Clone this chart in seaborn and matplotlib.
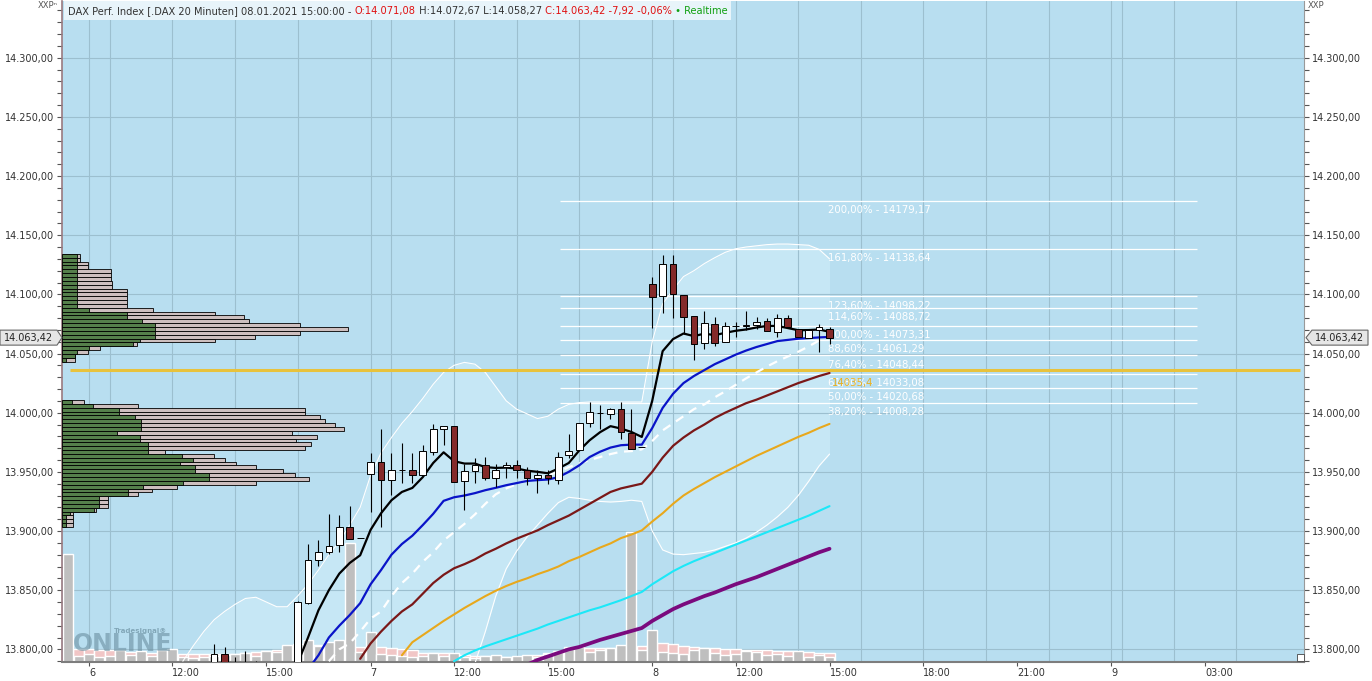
import numpy as np
import matplotlib
matplotlib.use('Agg')
import matplotlib.pyplot as plt
import matplotlib.transforms as mtransforms
from matplotlib.patches import Polygon, Rectangle
from matplotlib.ticker import FixedLocator, MultipleLocator, FuncFormatter
import seaborn as sns

# ============================================================
# DATA  (20 minute bars, bar index 0 = 06.01. 09:20)
# ============================================================
candle_start = 12
c_open = [13786, 13795.8, 13787, 13785, 13786, 13782, 13778, 13775, 13779, 13839.2,
          13875.3, 13882.3, 13887.9, 13903.4, 13894.1, 13948.5, 13957.9, 13942.9, 13951.9, 13951.9,
          13947.1, 13966.8, 13985.8, 13988.6, 13942, 13950.5, 13956.2, 13944.4, 13954.2, 13956.2,
          13951.4, 13944.4, 13947.1, 13942.9, 13964.1, 13968.2, 13990.9, 13999.8, 13999.3, 14003,
          13982.9, 13970.6, 14108.6, 14098.5, 14125.5, 14099.3, 14081.6, 14058.5, 14074.8, 14059.4,
          14073.4, 14073.4, 14073.9, 14077.3, 14068.3, 14080.1, 14070.6, 14063.5, 14069.7, 14071.08]
c_high = [13804.4, 13801.8, 13793.3, 13798.3, 13790.5, 13788, 13786, 13785, 13840.5, 13888.8,
          13892.2, 13914.2, 13913.3, 13920.9, 13894.1, 13965.5, 13986.6, 13966, 13974, 13965.5,
          13972.5, 13990.2, 13988.6, 13988.6, 13957, 13961.8, 13962.6, 13957, 13958.4, 13960.4,
          13954, 13951.4, 13951.4, 13966.8, 13981.8, 13991.6, 14008.6, 14006.3, 14004, 14009.1,
          14003.5, 13970.6, 14114.8, 14133.2, 14133.2, 14099.3, 14081.6, 14085.8, 14081, 14076.8,
          14076.8, 14085.8, 14081, 14080, 14083, 14082.5, 14070.6, 14069.7, 14075, 14072.67]
c_low = [13780, 13783, 13780, 13779, 13778, 13772, 13770, 13768, 13776, 13838.5,
         13870.4, 13880.9, 13882.3, 13893.6, 13894.1, 13916.1, 13903.4, 13930.2, 13940.6, 13940.6,
         13947.1, 13964, 13972.5, 13941.5, 13918.1, 13940.6, 13943.5, 13937.2, 13944.4, 13944.4,
         13938.7, 13931.7, 13939.5, 13940, 13962, 13968.2, 13988, 13986.6, 13995, 13978,
         13969.7, 13970.6, 14071.2, 14084.4, 14079.6, 14066.9, 14044.4, 14053.7, 14056.2, 14059.4,
         14064, 14069.7, 14071, 14068.9, 14064, 14072, 14064, 14063.5, 14051.4, 14058.27]
c_close = [13795.8, 13787, 13785, 13786, 13782, 13778, 13775, 13779, 13840, 13875.8,
           13882.3, 13887.4, 13903.4, 13893.6, 13894.1, 13957.9, 13942.9, 13951.9, 13951.9, 13947.1,
           13967.7, 13986.6, 13988.6, 13941.5, 13950.5, 13955.6, 13944.4, 13951.9, 13956.2, 13951.4,
           13944.4, 13947, 13944.4, 13962.6, 13967.7, 13991.6, 14000.7, 13999.8, 14002.7, 13983.7,
           13969.7, 13970.6, 14097.4, 14125.5, 14100.2, 14081, 14057.9, 14075.4, 14058.5, 14073.4,
           14073.4, 14073.9, 14076.8, 14068.9, 14080.1, 14072, 14064, 14069.7, 14072.5, 14063.42]

# moving averages (start index, values)
ma_black_start = 20
ma_black = [13788, 13810, 13833, 13850, 13864, 13873, 13879.5, 13901, 13915, 13926,
            13933, 13936.4, 13945.5, 13957.5, 13966.5, 13959, 13957, 13957, 13954, 13953.3,
            13953.6, 13952.8, 13951, 13950, 13948.8, 13952.8, 13957.5, 13968, 13976.7, 13983.5,
            13988.6, 13986.6, 13983.7, 13979.5, 14010, 14052, 14062.2, 14066.9, 14064.7, 14066.8,
            14065.5, 14067.5, 14069.2, 14070.3, 14072, 14073.3, 14073.3, 14071.5, 14069.7, 14069.8,
            14070.3, 14068.3]
ma_blue_start = 21
ma_blue = [13783, 13795, 13810, 13820, 13829, 13839, 13855, 13867, 13880, 13889,
           13896, 13905, 13914.5, 13925.5, 13928.5, 13930, 13932, 13934.5, 13936.5, 13938.7,
           13940.5, 13942.3, 13943, 13943.5, 13945.5, 13950, 13955.5, 13962.5, 13967, 13970.5,
           13972.5, 13973, 13973, 13987, 14004, 14016, 14025, 14031, 14036, 14041,
           14045, 14049, 14052.5, 14055.5, 14058, 14060.5, 14061.5, 14062.5, 14063, 14063.6, 14064]
ma_white_start = 23
ma_white = [13790, 13800, 13805, 13815, 13826, 13832, 13845, 13856, 13864, 13874,
            13882, 13892, 13899, 13906, 13914, 13923, 13931, 13936, 13939.5, 13943,
            13945, 13947, 13950, 13954, 13957, 13960, 13962.5, 13965, 13967, 13967.5,
            13969, 13976, 13985, 13991, 13997, 14003, 14007, 14013, 14018, 14023.5,
            14029, 14034, 14039, 14043.5, 14047.5, 14051.5, 14056, 14061]
ma_maroon_start = 26
ma_maroon = [13792, 13805, 13815, 13824, 13832, 13838, 13847, 13856, 13863, 13868.5,
             13872, 13876, 13881, 13885, 13889.5, 13893.5, 13897, 13900.5, 13905, 13909,
             13913, 13918, 13923, 13928, 13933, 13936, 13938, 13940, 13950, 13962,
             13972, 13979, 13985, 13990, 13995.5, 14000, 14004, 14008, 14011, 14014.5,
             14018, 14021.5, 14025, 14028, 14031, 14033.5]
ma_orange_start = 30
ma_orange = [13795, 13806, 13812, 13818, 13824, 13829.5, 13835, 13840, 13845, 13849.5,
             13853.5, 13857, 13860, 13863.5, 13866.5, 13870, 13874.5, 13878, 13882, 13886,
             13889.5, 13894, 13897, 13900.5, 13908, 13915, 13923, 13930, 13935.5, 13940.5,
             13945.5, 13950, 13954.5, 13959, 13963.5, 13967.5, 13971.5, 13975.5, 13979.5, 13983,
             13987, 13990.5]
ma_cyan_start = 35
ma_cyan = [13790, 13795, 13799, 13802.5, 13805.5, 13808.5, 13811.5, 13814.5, 13817.5, 13821,
           13824, 13827, 13830, 13833, 13835.5, 13838.5, 13841.5, 13845, 13848.5, 13855,
           13860.5, 13866, 13870.5, 13874.5, 13878, 13881.5, 13885, 13888.5, 13892, 13895.5,
           13899, 13902.5, 13906, 13909.5, 13913, 13917, 13921]
ma_purple_start = 42
ma_purple = [13787, 13791, 13794, 13797, 13800, 13802, 13805, 13808, 13810.5, 13813,
             13815.5, 13818, 13824, 13829, 13834, 13838, 13841.5, 13845, 13848, 13851.5,
             13855, 13858, 13861, 13864.5, 13868, 13871.5, 13875, 13878.5, 13882, 13885]

# envelope bands
band_start = 9
band_upper = [13790, 13803, 13815, 13825, 13832, 13838, 13843, 13844, 13840, 13836,
              13836, 13845, 13855, 13867, 13880, 13891, 13905, 13920, 13947, 13966,
              13979, 13991, 14001, 14012, 14024, 14034, 14040, 14042.5, 14041, 14034,
              14022, 14010, 14003, 13999, 13995, 13997, 14003, 14007, 14008.5, 14009,
              14009, 14009, 14009, 14009, 14009, 14060, 14092, 14104, 14115, 14120,
              14126, 14131, 14135.5, 14138.5, 14140, 14141, 14142, 14142.5, 14142.5, 14142,
              14141.5, 14138, 14130]
band_lower = [13720, 13715, 13712, 13712, 13714, 13716, 13718, 13722, 13728, 13734,
              13738, 13735, 13728, 13722, 13718, 13716, 13716, 13718, 13720, 13725,
              13732, 13740, 13748, 13755, 13762, 13768, 13774, 13780, 13788, 13815,
              13845, 13868, 13883, 13895, 13905, 13915, 13924, 13928.5, 13927.5, 13926,
              13925, 13924.5, 13925, 13926, 13925, 13900, 13884, 13880.5, 13880, 13881,
              13882, 13884, 13887, 13890, 13894, 13899, 13905, 13912, 13920, 13930,
              13942, 13955, 13965]

# volume (index -2 .. 71)
vol_start = -2
vol_gray = [108, 6, 8, 5, 6, 12, 7, 11, 6, 12, 13, 5, 4, 5, 6, 7, 8, 9, 6, 11,
            10, 17, 18, 22, 16, 20, 22, 119, 10, 30, 8, 7, 6, 5, 6, 9, 6, 9, 5, 4,
            6, 7, 5, 6, 7, 5, 8, 10, 15, 15, 10, 12, 14, 17, 130, 12, 32, 10, 9, 8,
            12, 14, 9, 7, 8, 11, 10, 7, 8, 6, 11, 5, 7, 5]
vol_ref = [10, 13, 13, 12, 12, 10, 10, 9, 9, 9, 8, 8, 8, 8, 8, 8, 8, 9, 10, 11,
           12, 14, 16, 17, 17, 17, 17, 16, 15, 15, 15, 14, 13, 12, 9, 9, 9, 8, 7, 6,
           6, 6, 5, 5, 6, 7, 9, 11, 12, 13, 14, 14, 14, 14, 15, 16, 17, 19, 18, 16,
           15, 14, 14, 13, 13, 12, 12, 12, 11, 11, 10, 10, 9, 9]

# volume profile (bins of 3.25 points upward from 13903.4)
vp_low, vp_step = 13903.4, 3.25
vp_total = [10, 10, 10, 10, 33, 45, 45, 45, 75, 89, 114, 194, 246, 232, 220, 193, 173, 162, 151, 102,
            242, 248, 233, 254, 230, 281, 272, 262, 257, 242, 242, 75, 21,
            0, 0, 0, 0, 0, 0, 0, 0, 0, 0,
            12, 12, 25, 37, 74, 152, 192, 237, 285, 237, 186, 182, 152, 90, 64, 64, 64, 64, 64, 49,
            49, 48, 48, 48, 25, 25, 17, 17]
vp_up = [3, 3, 3, 7, 31, 36, 36, 36, 65, 65, 80, 120, 146, 146, 132, 132, 117, 130, 119, 85,
         85, 85, 77, 77, 54, 78, 78, 78, 72, 56, 56, 30, 9,
         0, 0, 0, 0, 0, 0, 0, 0, 0, 0,
         3, 12, 14, 26, 70, 77, 92, 92, 92, 92, 79, 64, 64, 26, 14, 14, 14, 14, 14, 14,
         14, 14, 14, 14, 14, 14, 14, 14]

# fibonacci levels
fib_pcts = ['38,20%', '50,00%', '61,80%', '76,40%', '88,60%', '100,00%', '114,60%', '123,60%', '161,80%', '200,00%']
fib_vals = [14008.28, 14020.68, 14033.08, 14048.44, 14061.29, 14073.31, 14088.72, 14098.22, 14138.64, 14179.17]
fib_from, fib_to = 45.2, 106.2
yellow_level = 14035.9
last_close = 14063.42

# time axis
tick_idx = [0, 8, 17, 27, 35, 44, 54, 62, 71, 80, 89, 98, 107]
tick_lbl = ['6', '12:00', '15:00', '7', '12:00', '15:00', '8', '12:00', '15:00', '18:00', '21:00', '9', '03:00']
grid_idx = [0, 2, 8, 14, 20, 27, 29, 35, 41, 47, 54, 56, 62, 68, 74, 80, 86, 92, 98, 99, 104, 110]

header_parts = [("DAX Perf. Index [.DAX 20 Minuten] 08.01.2021 15:00:00 - ", '#333333'),
                ("O:14.071,08", '#e01010'), (" H:14.072,67", '#333333'), (" L:14.058,27", '#333333'),
                (" C:14.063,42 -7,92 -0,06%", '#e01010'), (" \u2022 Realtime", '#10a010')]

# ============================================================
# FIGURE
# ============================================================
sns.set_style("white")
plt.rcParams['font.family'] = ['DejaVu Sans']

W, H = 1372, 681
fig = plt.figure(figsize=(W / 100, H / 100), dpi=100)
fx = lambda px: px / W
fy = lambda py: 1 - py / H
ax = fig.add_axes([fx(62.5), fy(662), fx(1304) - fx(62.5), fy(1) - fy(662)])
ax.set_facecolor('#b8def0')
ax.set_xlim(-2.54, 116.49)
ax.set_ylim(13789.3, 14347.9)

# grid
for g in grid_idx:
    ax.axvline(g, color='#9cbfcf', lw=0.8, zorder=0.8)
for lv in np.arange(13800, 14301, 50):
    ax.axhline(lv, color='#9cbfcf', lw=0.8, zorder=0.8)

# envelope
bx = np.arange(band_start, band_start + len(band_upper))
ax.fill_between(bx, band_lower, band_upper, color='#c6e7f5', lw=0, zorder=0.6)
sns.lineplot(x=bx, y=band_upper, ax=ax, color='white', linewidth=0.8, zorder=3)
sns.lineplot(x=bx, y=band_lower, ax=ax, color='white', linewidth=0.8, zorder=3)

# volume (units: full panel height = 661)
VOL_TOP = 661.0
t_vol = mtransforms.blended_transform_factory(ax.transData, ax.transAxes)
vx = np.arange(vol_start, vol_start + len(vol_gray))
ax.bar(vx, np.array(vol_ref) / VOL_TOP, width=1.0, color='#f1c6c6', transform=t_vol, zorder=1.2)
ax.bar(vx, np.array(vol_gray) / VOL_TOP, width=0.95, color='#bfbfbf', transform=t_vol, zorder=1.3)

# volume profile (units: full panel width = 1241.5)
VP_WIDE = 1241.5
t_vp = mtransforms.blended_transform_factory(ax.transAxes, ax.transData)
vp_lvls = vp_low + vp_step * (np.arange(len(vp_total)) + 0.5)
m = np.array(vp_total) > 0
ax.barh(vp_lvls[m], np.array(vp_total)[m] / VP_WIDE, height=vp_step, left=0, color='#cdbfbf',
        edgecolor='black', linewidth=0.6, transform=t_vp, zorder=2.5)
ax.barh(vp_lvls[m], np.array(vp_up)[m] / VP_WIDE, height=vp_step, left=0, color='#557f4b',
        edgecolor='black', linewidth=0.6, transform=t_vp, zorder=2.6)

# watermark
ax.text(0.008, 0.009, 'ONLINE', transform=ax.transAxes, fontsize=17, fontweight='bold',
        color='#6a8fa0', alpha=0.6, va='bottom', ha='left', zorder=2.7)
ax.text(0.041, 0.043, 'Tradesignal\u00ae', transform=ax.transAxes, fontsize=5, fontweight='bold',
        color='#6a8fa0', alpha=0.7, va='bottom', ha='left', zorder=2.7)

# yellow level + fibonacci
ax.hlines(yellow_level, -1.8, 116.1, color='#e8c23c', lw=2.2, zorder=3.2)
ax.hlines(fib_vals, fib_from, fib_to, color='white', lw=0.9, zorder=3.1)
for p, v in zip(fib_pcts, fib_vals):
    ax.annotate(f"{p} - {v:.2f}".replace('.', ','), xy=(70.85, v), xytext=(0, -3),
                textcoords='offset points', va='top', ha='left', fontsize=7.3,
                color='white', zorder=3.3)
ax.annotate('14035,4', xy=(71.2, fib_vals[2]), xytext=(0, -3), textcoords='offset points',
            va='top', ha='left', fontsize=7.3, color='#e8b020', zorder=3.4)

# moving averages
ma_list = [(ma_purple_start, ma_purple, '#7a0a7e', 2.7, '-'),
           (ma_cyan_start, ma_cyan, '#1ce8f8', 1.5, '-'),
           (ma_orange_start, ma_orange, '#e8a81c', 1.5, '-'),
           (ma_maroon_start, ma_maroon, '#7a1818', 1.6, '-'),
           (ma_white_start, ma_white, 'white', 1.6, (0, (4, 3))),
           (ma_blue_start, ma_blue, '#0a14c8', 1.6, '-'),
           (ma_black_start, ma_black, 'black', 1.6, '-')]
for st, vals, col, lw, ls in ma_list:
    sns.lineplot(x=np.arange(st, st + len(vals)), y=vals, ax=ax, color=col, linewidth=lw,
                 linestyle=ls, zorder=4)

# candles
cx = np.arange(candle_start, candle_start + len(c_open))
o, h, l, c = map(np.array, (c_open, c_high, c_low, c_close))
up = c >= o
ax.vlines(cx, l, h, color='black', lw=0.8, zorder=5)
ax.bar(cx, np.abs(c - o), bottom=np.minimum(o, c), width=0.64,
       color=np.where(up, 'white', '#842a2a'), edgecolor='black', linewidth=0.7, zorder=6)

# axes styling
ax.yaxis.set_major_locator(FixedLocator(np.arange(13800, 14301, 50)))
ax.yaxis.set_minor_locator(MultipleLocator(10))
ax.yaxis.set_major_formatter(FuncFormatter(
    lambda v, p: f"{v:,.2f}".replace(',', 'X').replace('.', ',').replace('X', '.')))
ax.tick_params(axis='y', which='both', left=True, right=True, labelleft=True, labelright=True,
               direction='out', length=3.5, width=0.8, color='#555555', labelsize=7,
               labelcolor='#333333', pad=2.5)
ax.set_xticks(tick_idx)
ax.set_xticklabels(tick_lbl)
ax.tick_params(axis='x', which='both', bottom=True, direction='out', length=3, width=0.8,
               color='#555555', labelsize=7, labelcolor='#333333', pad=1.5)
for lab in ax.get_xticklabels():
    lab.set_ha('left')
ax.spines['top'].set_visible(False)
ax.spines['left'].set_color('#9a7a80')
ax.spines['left'].set_linewidth(1.2)
ax.spines['right'].set_color('#999999')
ax.spines['bottom'].set_color('#7d7d7d')
ax.spines['bottom'].set_linewidth(1.5)
ax.set_xlabel('')
ax.set_ylabel('')

# header bar
fig.add_artist(Rectangle((fx(63.5), fy(20)), fx(731) - fx(63.5), fy(1) - fy(20),
                         transform=fig.transFigure, facecolor='#e8f4fa', edgecolor='none', zorder=2))
fig.text(fx(38), fy(6), 'XXP\u207f', fontsize=6, color='#555555', va='center', ha='left')
fig.text(fx(1308), fy(6), 'XXP', fontsize=6, color='#555555', va='center', ha='left')

fig.canvas.draw()
rend = fig.canvas.get_renderer()
x_cur = 68
for s, col in header_parts:
    t = fig.text(fx(x_cur), fy(11), s, color=col, fontsize=7.1, va='center', ha='left')
    x_cur = t.get_window_extent(rend).x1

# last price tags
y_last = H - ax.transData.transform((0, last_close))[1]
for pts, tx in [([(0, -7.5), (57, -7.5), (62, 0), (57, 7.5), (0, 7.5)], 29),
                ([(1306, 0), (1312, -7.5), (1368, -7.5), (1368, 7.5), (1312, 7.5)], 1340)]:
    poly = [(fx(px), fy(y_last + dy)) for px, dy in pts]
    fig.add_artist(Polygon(poly, closed=True, transform=fig.transFigure, facecolor='#e6e6e6',
                           edgecolor='#666666', lw=0.8, zorder=4))
    fig.text(fx(tx), fy(y_last), f"{last_close:,.2f}".replace(',', 'X').replace('.', ',').replace('X', '.'),
             fontsize=7, color='#222222', va='center', ha='center', zorder=5)

# small corner mark
fig.add_artist(Rectangle((fx(1297), fy(661)), fx(7), fy(654) - fy(661), transform=fig.transFigure,
                         facecolor='white', edgecolor='#444444', lw=0.6, zorder=3))

fig.savefig('out.png', dpi=100)
print("saved out.png")
